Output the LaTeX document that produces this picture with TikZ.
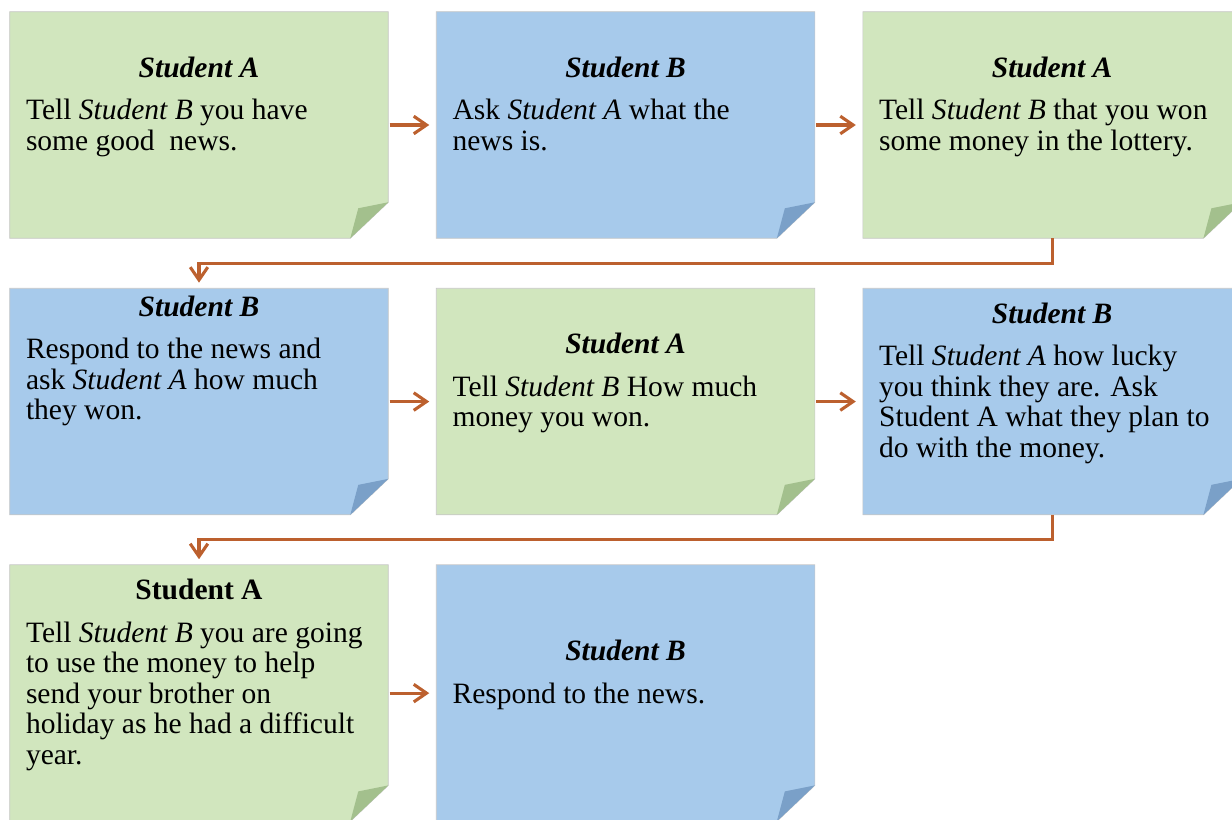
\documentclass[tikz,border=0pt]{standalone}
\usepackage{fontspec}
\setmainfont{Liberation Serif}
\usetikzlibrary{positioning}
\usetikzlibrary{arrows.meta}

\definecolor{cardgreen}{RGB}{209,230,190}
\definecolor{foldgreen}{RGB}{163,192,141}
\definecolor{cardblue}{RGB}{167,202,235}
\definecolor{foldblue}{RGB}{122,160,200}
\definecolor{arrowbrown}{RGB}{188,96,46}

\tikzset{
  card/.style={minimum width=9.45cm, minimum height=5.65cm, inner sep=0pt},
  tallcard/.style={card, minimum height=6.4cm},
  cardtext/.style={text width=8.65cm, align=flush left, inner sep=0pt, font=\fontsize{21}{21.7}\selectfont, execute at end node=\strut},
  flow/.style={draw=arrowbrown, line width=2.2pt, -{Straight Barb[length=3.2mm, width=4.4mm]}},
}

\begin{document}
\begin{tikzpicture}
    \useasboundingbox (0,0) rectangle (30.8,-20.5);

    % the cards
    \node[card] (c1) at (4.975,-3.125) {};
    \node[card, right=1.2cm of c1] (c2) {};
    \node[card, right=1.2cm of c2] (c3) {};
    \node[card, below=1.25cm of c1] (c4) {};
    \node[card, right=1.2cm of c4] (c5) {};
    \node[card, right=1.2cm of c5] (c6) {};
    \node[tallcard, below=1.25cm of c4] (c7) {};
    \node[tallcard, right=1.2cm of c7] (c8) {};

    \foreach \cname/\tone in {c1/green, c2/blue, c3/green, c4/blue, c5/green, c6/blue, c7/green, c8/blue}{
        \filldraw[fill=card\tone, draw=black!22, line width=0.5pt] (\cname.north west) -- (\cname.north east) -- ([yshift=0.9cm]\cname.south east) -- ([xshift=-0.95cm]\cname.south east) -- (\cname.south west) -- cycle;
        \fill[fold\tone] ([xshift=-0.95cm]\cname.south east) -- ([shift={(-0.75,0.75)}]\cname.south east) -- ([yshift=0.9cm]\cname.south east) -- cycle;
    }

    % the texts
    \node[cardtext] (t1) at ([yshift=4.2mm]c1.center) {{\centering\textbf{\textit{Student A}}\par}\vspace{3mm}Tell \textit{Student B} you have\\some good\ \ news.};
    \node[cardtext] (t2) at ([yshift=4.2mm]c2.center) {{\centering\textbf{\textit{Student B}}\par}\vspace{3mm}Ask \textit{Student A} what the\\news is.};
    \node[cardtext] (t3) at ([yshift=4.2mm]c3.center) {{\centering\textbf{\textit{Student A}}\par}\vspace{3mm}Tell \textit{Student B} that you won\\some money in the lottery.};
    \node[cardtext] (t4) at ([yshift=4.2mm]c4.center) {{\centering\textbf{\textit{Student B}}\par}\vspace{3mm}Respond to the news and\\ask \textit{Student A} how much\\they won.\\[0.35cm]\mbox{}};
    \node[cardtext] (t5) at ([yshift=4.2mm]c5.center) {{\centering\textbf{\textit{Student A}}\par}\vspace{3mm}Tell \textit{Student B} How much\\money you won.};
    \node[cardtext] (t6) at ([yshift=4.2mm]c6.center) {{\centering\textbf{\textit{Student B}}\par}\vspace{3mm}Tell \textit{Student A} how lucky\\you think they are. Ask\\Student A what they plan to\\do with the money.};
    \node[cardtext] (t7) at ([yshift=4.2mm]c7.center) {{\centering\textbf{Student A}\par}\vspace{3mm}Tell \textit{Student B} you are going\\to use the money to help\\send your brother on\\holiday as he had a difficult\\year.};
    \node[cardtext] (t8) at ([yshift=4.2mm]c8.center) {{\centering\textbf{\textit{Student B}}\par}\vspace{3mm}Respond to the news.};

    % arrows
    \draw[flow, shorten <=1pt, shorten >=5pt] (c1.east) -- (c2.west);
    \draw[flow, shorten <=1pt, shorten >=5pt] (c2.east) -- (c3.west);
    \draw[flow, shorten >=4pt] (c3.south) -- ++(0,-0.625) -| (c4.north);
    \draw[flow, shorten <=1pt, shorten >=5pt] (c4.east) -- (c5.west);
    \draw[flow, shorten <=1pt, shorten >=5pt] (c5.east) -- (c6.west);
    \draw[flow, shorten >=4pt] (c6.south) -- ++(0,-0.625) -| (c7.north);
    \draw[flow, shorten <=1pt, shorten >=5pt] (c7.east) -- (c8.west);
\end{tikzpicture}
\end{document}
